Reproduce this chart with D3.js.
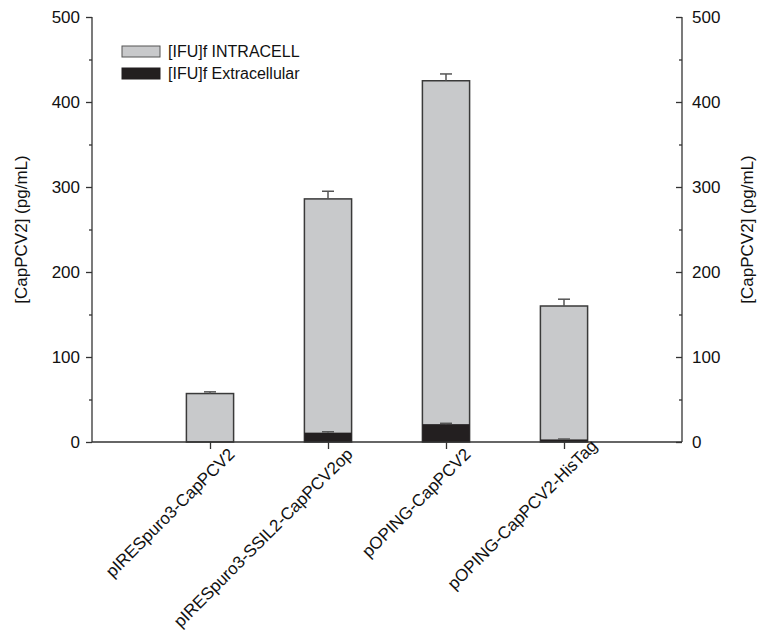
<!DOCTYPE html>
<html>
<head>
<meta charset="utf-8">
<script src="https://cdn.jsdelivr.net/npm/d3@7"></script>
<style>
  body { margin: 0; background: #fff; }
  svg text { font-family: "Liberation Sans", Arial, sans-serif; fill: #111; }
</style>
</head>
<body>
<div id="chart"></div>
<script>
// data
var categories = ["pIRESpuro3-CapPCV2", "pIRESpuro3-SSIL2-CapPCV2op", "pOPING-CapPCV2", "pOPING-CapPCV2-HisTag"];
var intracell = [57, 286, 425, 160];
var intracellErr = [2, 9, 8, 8];
var extracell = [0, 11, 21, 3];
var extracellErr = [0, 1, 1, 0.5];
var yTicks = [0, 100, 200, 300, 400, 500];
var yMinor = [50, 150, 250, 350, 450];
var legendNames = ["[IFU]f INTRACELL", "[IFU]f Extracellular"];

var svgWidth = 758, svgHeight = 632;
var margin = {top: 17, right: 76, bottom: 190, left: 92};
var width = svgWidth - margin.left - margin.right,
    height = svgHeight - margin.top - margin.bottom;

var svg = d3.select("#chart").append("svg")
  .attr("width", svgWidth)
  .attr("height", svgHeight);

var g = svg.append("g")
  .attr("transform", "translate(" + margin.left + "," + margin.top + ")");

// categories sit at 1..4 on a 0..5 axis
var x = d3.scaleLinear().domain([0, categories.length + 1]).range([0, width]);
var y = d3.scaleLinear().domain([0, 500]).range([height, 0]);
var barW = x(0.4) - x(0);

var grey = "#c8c9cb", dark = "#231f20", edge = "#3a3a3a";

// grey bars (intracellular)
g.selectAll(".bar-in")
  .data(intracell)
  .enter().append("rect")
  .attr("x", function(d, i) { return x(i + 1) - barW / 2; })
  .attr("y", function(d) { return y(d); })
  .attr("width", barW)
  .attr("height", function(d) { return y(0) - y(d); })
  .attr("fill", grey)
  .attr("stroke", edge)
  .attr("stroke-width", 1.5);

// black bars (extracellular) drawn over the grey ones
g.selectAll(".bar-ex")
  .data(extracell)
  .enter().append("rect")
  .attr("x", function(d, i) { return x(i + 1) - barW / 2; })
  .attr("y", function(d) { return y(d); })
  .attr("width", barW)
  .attr("height", function(d) { return y(0) - y(d); })
  .attr("fill", dark);

// error bars, upper side only
function errBars(vals, errs, col) {
  vals.forEach(function(v, i) {
    if (errs[i] <= 0) return;
    var cx = x(i + 1);
    g.append("line")
      .attr("x1", cx).attr("x2", cx)
      .attr("y1", y(v)).attr("y2", y(v + errs[i]))
      .attr("stroke", col).attr("stroke-width", 1.5);
    g.append("line")
      .attr("x1", cx - 6).attr("x2", cx + 6)
      .attr("y1", y(v + errs[i])).attr("y2", y(v + errs[i]))
      .attr("stroke", col).attr("stroke-width", 1.5);
  });
}
errBars(intracell, intracellErr, "#555");
errBars(extracell, extracellErr, "#555");

// left axis
var left = g.append("g")
  .call(d3.axisLeft(y).tickValues(yTicks).tickSize(6).tickPadding(6).tickFormat(d3.format("d")));
g.append("g")
  .call(d3.axisLeft(y).tickValues(yMinor).tickSize(3).tickFormat(""))
  .select(".domain").remove();

// right axis, ticks pointing inward
var right = g.append("g")
  .attr("transform", "translate(" + width + ",0)")
  .call(d3.axisRight(y).tickValues(yTicks).tickSize(0).tickPadding(10).tickFormat(d3.format("d")));
right.selectAll(".tick line").attr("x2", -6);
var rMinor = g.append("g")
  .attr("transform", "translate(" + width + ",0)")
  .call(d3.axisRight(y).tickValues(yMinor).tickSize(0).tickFormat(""));
rMinor.select(".domain").remove();
rMinor.selectAll(".tick line").attr("x2", -3);

// bottom axis
var bottom = g.append("g")
  .attr("transform", "translate(0," + height + ")")
  .call(d3.axisBottom(x).tickValues([1, 2, 3, 4]).tickSize(7).tickFormat(function(d) { return categories[d - 1]; }));

// last label sits a bit higher in the original
bottom.selectAll("text")
  .attr("text-anchor", "end")
  .attr("dy", "0.35em")
  .attr("dx", function(d) { return d == 4 ? 12 : 0; })
  .attr("transform", "translate(14,2) rotate(-45)");

g.selectAll(".domain, .tick line").attr("stroke", "#333").attr("stroke-width", 1.3);
g.selectAll(".tick text").style("font-size", "17px").attr("fill", "#111");
// plain axis lines without end ticks
left.select(".domain").attr("d", "M0," + height + "V0");
right.select(".domain").attr("d", "M0," + height + "V0");
bottom.select(".domain").attr("d", "M0,0H" + width);

// axis titles
svg.append("text")
  .attr("transform", "translate(27," + (margin.top + height / 2) + ") rotate(-90)")
  .attr("text-anchor", "middle")
  .style("font-size", "17px")
  .text("[CapPCV2] (pg/mL)");
svg.append("text")
  .attr("transform", "translate(753," + (margin.top + height / 2) + ") rotate(-90)")
  .attr("text-anchor", "middle")
  .style("font-size", "17px")
  .text("[CapPCV2] (pg/mL)");

// legend
var legend = g.append("g").attr("transform", "translate(30,29)");
legendNames.forEach(function(name, i) {
  legend.append("rect")
    .attr("x", 0).attr("y", i * 22)
    .attr("width", 38).attr("height", 11)
    .attr("fill", i == 0 ? grey : dark)
    .attr("stroke", i == 0 ? "#555" : dark)
    .attr("stroke-width", 1);
  legend.append("text")
    .attr("x", 46).attr("y", i * 22 + 11)
    .style("font-size", "16px")
    .text(name);
});
</script>
</body>
</html>
